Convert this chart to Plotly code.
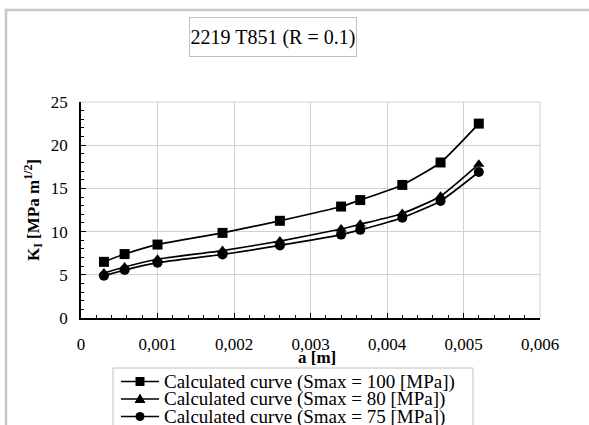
import plotly.graph_objects as go

a_m = [0.0003, 0.00057, 0.001, 0.00185, 0.0026, 0.0034, 0.00365, 0.0042, 0.0047, 0.0052]
k_100 = [6.5, 7.4, 8.5, 9.85, 11.25, 12.9, 13.65, 15.4, 18.0, 22.5]
k_80 = [5.2, 5.9, 6.8, 7.8, 8.9, 10.3, 10.85, 12.1, 14.1, 17.8]
k_75 = [4.9, 5.55, 6.4, 7.35, 8.4, 9.65, 10.2, 11.6, 13.55, 16.9]

series_names = [
    "Calculated curve (Smax = 100 [MPa])",
    "Calculated curve (Smax = 80 [MPa])",
    "Calculated curve (Smax = 75 [MPa])",
]
x_tickvals = [0, 0.001, 0.002, 0.003, 0.004, 0.005, 0.006]
x_ticktext = ["0", "0,001", "0,002", "0,003", "0,004", "0,005", "0,006"]
y_tickvals = [0, 5, 10, 15, 20, 25]
chart_title = "2219 T851 (R = 0.1)"
x_title = "a [m]"
y_title = "K<sub>I</sub> [MPa m<sup>1/2</sup>]"

FONT = "Liberation Serif"
W, H = 589, 425
L, R, T, B = 81, 49, 102, 107
PW, PH = W - L - R, H - T - B


def px_x(px):
    return (px - L) / PW


def px_y(py):
    return (H - B - py) / PH


symbols = ["square", "triangle-up", "circle"]
fig = go.Figure()
for name, ys, sym in zip(series_names, [k_100, k_80, k_75], symbols):
    fig.add_trace(go.Scatter(
        x=a_m, y=ys, name=name, mode="lines+markers", showlegend=False,
        line=dict(color="black", width=1.7, shape="spline", smoothing=0.5),
        marker=dict(symbol=sym, size=10, color="black"),
    ))

shapes = [
    # outer chart frame
    dict(type="rect", xref="paper", yref="paper", x0=px_x(6), y0=px_y(600), x1=px_x(700), y1=px_y(10),
         line=dict(color="#c8c8c8", width=2.5), layer="below"),
    # top and right plot borders (gray)
    dict(type="line", xref="paper", yref="paper", x0=0, y0=1, x1=1, y1=1,
         line=dict(color="#d0d0d0", width=1), layer="below"),
    dict(type="line", xref="paper", yref="paper", x0=1, y0=0, x1=1, y1=1,
         line=dict(color="#d0d0d0", width=1), layer="below"),
    # legend box
    dict(type="rect", xref="paper", yref="paper", x0=px_x(113), y0=px_y(440), x1=px_x(473), y1=px_y(368),
         line=dict(color="#c0c0c0", width=1), fillcolor="white", layer="above"),
]
annotations = [
    dict(
        text=chart_title, xref="paper", yref="paper",
        x=px_x(273), y=px_y(37), xanchor="center", yanchor="middle", showarrow=False,
        font=dict(family=FONT, size=20, color="black"),
        width=164, height=36, borderpad=1,
        bordercolor="#c0c0c0", borderwidth=1, bgcolor="white",
    ),
    dict(
        text="<b>" + x_title + "</b>", xref="paper", yref="paper",
        x=px_x(317), y=px_y(357), xanchor="center", yanchor="middle", showarrow=False,
        font=dict(family=FONT, size=17, color="black"),
    ),
]

row_y = [381.5, 399, 416.5]
for name, sym, ry in zip(series_names, symbols, row_y):
    shapes.append(dict(type="line", xref="paper", yref="paper",
                       x0=px_x(121), x1=px_x(159), y0=px_y(ry), y1=px_y(ry),
                       line=dict(color="black", width=1.7)))
    cx, r = 140, 4.5
    if sym == "square":
        shapes.append(dict(type="rect", xref="paper", yref="paper",
                           x0=px_x(cx - r), x1=px_x(cx + r), y0=px_y(ry + r), y1=px_y(ry - r),
                           fillcolor="black", line=dict(width=0)))
    elif sym == "circle":
        shapes.append(dict(type="circle", xref="paper", yref="paper",
                           x0=px_x(cx - r), x1=px_x(cx + r), y0=px_y(ry + r), y1=px_y(ry - r),
                           fillcolor="black", line=dict(width=0)))
    else:
        path = "M {} {} L {} {} L {} {} Z".format(
            px_x(cx), px_y(ry - 5.5), px_x(cx - 5.5), px_y(ry + 4), px_x(cx + 5.5), px_y(ry + 4))
        shapes.append(dict(type="path", xref="paper", yref="paper", path=path,
                           fillcolor="black", line=dict(width=0)))
    annotations.append(dict(
        text=name, xref="paper", yref="paper", x=px_x(162), y=px_y(ry),
        xanchor="left", yanchor="middle", showarrow=False,
        font=dict(family=FONT, size=19, color="black"),
    ))

fig.update_layout(
    width=W, height=H,
    margin=dict(l=L, r=R, t=T, b=B, autoexpand=False),
    paper_bgcolor="white", plot_bgcolor="white",
    font=dict(family=FONT, size=16, color="black"),
    showlegend=False,
    xaxis=dict(
        range=[0, 0.006], tickvals=x_tickvals, ticktext=x_ticktext,
        showgrid=True, gridcolor="#d0d0d0", gridwidth=1,
        showline=True, linecolor="black", linewidth=1.5,
        ticks="inside", ticklen=5, tickcolor="black",
        minor=dict(ticks="inside", dtick=0.0002, ticklen=3, tickcolor="black", showgrid=False),
        ticklabelstandoff=10, automargin=False,
        tickfont=dict(family=FONT, size=17),
        zeroline=False,
    ),
    yaxis=dict(
        range=[0, 25], tickvals=y_tickvals,
        showgrid=True, gridcolor="#d0d0d0", gridwidth=1,
        showline=True, linecolor="black", linewidth=1.5,
        ticks="inside", ticklen=5, tickcolor="black",
        minor=dict(ticks="inside", dtick=1, ticklen=3, tickcolor="black", showgrid=False),
        ticklabelstandoff=8, automargin=False,
        tickfont=dict(family=FONT, size=17),
        zeroline=False,
        title=dict(text="<b>" + y_title + "</b>", standoff=7, font=dict(family=FONT, size=17)),
    ),
    annotations=annotations,
    shapes=shapes,
)

fig.write_html(
    "out.html",
    config={"displayModeBar": False},
    post_script="document.body.style.margin='0px';document.body.style.padding='0px';",
)
